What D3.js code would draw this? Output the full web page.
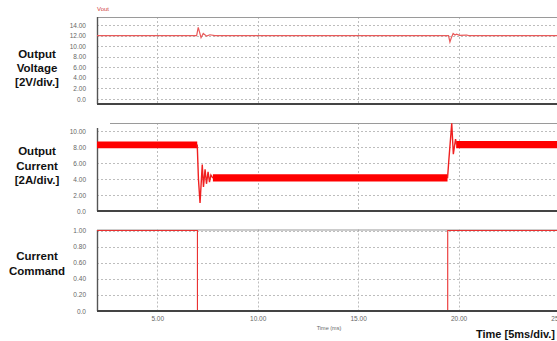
<!DOCTYPE html>
<html>
<head>
<meta charset="utf-8">
<script src="https://cdn.jsdelivr.net/npm/d3@7"></script>
<style>
  html, body { margin: 0; padding: 0; background: #fff; }
  svg { display: block; font-family: "Liberation Sans", Arial, sans-serif; }
</style>
</head>
<body>
<svg id="chart" width="557" height="341"></svg>
<script>
// Time axis (ms)
const timeTicks = [5, 10, 15, 20, 25];

// Output voltage trace (V)
const voltTicks = [0, 2, 4, 6, 8, 10, 12, 14];
const voutTime  = [2, 6.96, 7.04, 7.18, 7.29, 7.46, 7.62, 7.87, 19.5, 19.57, 19.65, 19.73, 19.82, 19.9, 20.05, 20.4, 20.5, 25];
const voutValue = [12, 12, 13.55, 11.6, 12.4, 11.9, 12.15, 12.0, 12, 10.8, 11.7, 12.4, 12.1, 12.25, 12.05, 12.1, 12, 12];

// Output current (A): switching ripple envelopes for the steady intervals
const currTicks   = [0, 2, 4, 6, 8, 10];
const rippleStart = [2, 7.77, 19.88];
const rippleEnd   = [6.99, 19.45, 25];
const rippleLow   = [7.85, 3.7, 7.85];
const rippleHigh  = [8.7, 4.6, 8.75];

// Output current transients at the load steps
const dropTime  = [6.99, 7.05, 7.13, 7.24, 7.30, 7.38, 7.45, 7.53, 7.60, 7.67, 7.77];
const dropValue = [8.3, 4.0, 1.0, 5.8, 3.0, 5.2, 3.4, 4.9, 3.6, 4.5, 4.1];
const riseTime  = [19.45, 19.52, 19.66, 19.74, 19.85, 19.9];
const riseValue = [4.1, 6.5, 10.95, 7.1, 9.0, 8.3];

// Current command (normalised)
const cmdTicks = [0, 0.2, 0.4, 0.6, 0.8, 1.0];
const cmdTime  = [2, 7.0, 7.0, 19.46, 19.46, 25];
const cmdValue = [1, 1, 0, 0, 1, 1];

const svg = d3.select("#chart");
const X0 = 97, X1 = 559;
const x = d3.scaleLinear().domain([2, 25]).range([X0, X1]);

const fmt = v => v === 0 ? "0.0" : d3.format(".2f")(v);

function panel(cfg) {
  const g = svg.append("g");
  const y = d3.scaleLinear().domain(cfg.domain).range(cfg.range);

  // horizontal grid
  g.append("g")
    .selectAll("line").data(cfg.ticks).join("line")
    .attr("x1", X0).attr("x2", X1)
    .attr("y1", d => Math.round(y(d)) + 0.5).attr("y2", d => Math.round(y(d)) + 0.5)
    .attr("stroke", "#bdbdbd").attr("stroke-width", 1)
    .attr("stroke-dasharray", "2,2");

  // vertical grid
  g.append("g")
    .selectAll("line").data(timeTicks).join("line")
    .attr("x1", d => Math.round(x(d)) + 0.5).attr("x2", d => Math.round(x(d)) + 0.5)
    .attr("y1", cfg.top).attr("y2", cfg.bottom)
    .attr("stroke", "#bdbdbd").attr("stroke-width", 1)
    .attr("stroke-dasharray", "2,2");

  // y tick labels
  const ax = d3.axisLeft(y).tickValues(cfg.ticks).tickSize(0).tickPadding(0).tickFormat(fmt);
  const axg = g.append("g").attr("transform", `translate(${X0 - 11},0)`).call(ax);
  axg.select(".domain").remove();
  axg.selectAll("text")
    .attr("fill", "#666").attr("font-size", "6.5px")
    .attr("font-family", "'Liberation Sans', Arial, sans-serif");

  // frame
  g.append("line")
    .attr("x1", cfg.topStart).attr("x2", X1)
    .attr("y1", cfg.top + 0.5).attr("y2", cfg.top + 0.5)
    .attr("stroke", "#9a9a9a").attr("stroke-width", 1.1);
  g.append("line")
    .attr("x1", X0 + 0.5).attr("x2", X0 + 0.5)
    .attr("y1", cfg.leftStart).attr("y2", cfg.bottom)
    .attr("stroke", "#555").attr("stroke-width", 1.4);

  // traces
  cfg.draw(g, y);

  g.append("line")
    .attr("x1", X0).attr("x2", X1)
    .attr("y1", cfg.bottom).attr("y2", cfg.bottom)
    .attr("stroke", "#444").attr("stroke-width", 1.8);

  // side caption
  const cap = g.append("text")
    .attr("text-anchor", "middle")
    .attr("font-weight", "bold").attr("font-size", "11.5px").attr("fill", "#111");
  cfg.caption.forEach((t, i) => {
    cap.append("tspan").attr("x", 37).attr("y", cfg.captionY[i]).text(t);
  });
  return y;
}

const line = (y) => d3.line().x(d => x(d[0])).y(d => y(d[1]));

// Panel 1: output voltage
panel({
  domain: [0, 14], range: [99, 25], ticks: voltTicks,
  top: 17, bottom: 104, topStart: X0, leftStart: 17,
  caption: ["Output", "Voltage", "[2V/div.]"], captionY: [57.5, 71.5, 85.5],
  draw: (g, y) => {
    g.append("path")
      .datum(d3.zip(voutTime, voutValue))
      .attr("d", line(y))
      .attr("fill", "none").attr("stroke", "#e85a5a").attr("stroke-width", 1.2);
  }
});
svg.append("text").attr("x", X0).attr("y", 11)
  .attr("font-size", "6px").attr("fill", "#d04040").text("Vout");

// Panel 2: output current
panel({
  domain: [0, 10], range: [211, 131], ticks: currTicks,
  top: 123, bottom: 211, topStart: 110, leftStart: 128,
  caption: ["Output", "Current", "[2A/div.]"], captionY: [154.5, 169.5, 183.5],
  draw: (g, y) => {
    const bands = rippleStart.map((s, i) => ({ s, e: rippleEnd[i], lo: rippleLow[i], hi: rippleHigh[i] }));
    const area = d3.area().x(d => x(d.t)).y0(d => y(d.lo)).y1(d => y(d.hi));
    g.append("g").selectAll("path").data(bands).join("path")
      .attr("d", b => area([{ t: b.s, lo: b.lo, hi: b.hi }, { t: b.e, lo: b.lo, hi: b.hi }]))
      .attr("fill", "#ff0000");
    g.append("path")
      .datum(d3.zip(dropTime, dropValue))
      .attr("d", line(y))
      .attr("fill", "none").attr("stroke", "#f02020").attr("stroke-width", 1.4);
    g.append("path")
      .datum(d3.zip(riseTime, riseValue))
      .attr("d", line(y))
      .attr("fill", "none").attr("stroke", "#f02020").attr("stroke-width", 1.4);
  }
});

// Panel 3: current command
panel({
  domain: [0, 1], range: [311, 230.5], ticks: cmdTicks,
  top: 229.5, bottom: 311, topStart: X0, leftStart: 230,
  caption: ["Current", "Command"], captionY: [259.5, 275],
  draw: (g, y) => {
    g.append("path")
      .datum(d3.zip(cmdTime, cmdValue))
      .attr("d", line(y))
      .attr("fill", "none").attr("stroke", "#ea3030").attr("stroke-width", 1.1);
  }
});

// time axis labels
const xa = d3.axisBottom(x).tickValues(timeTicks).tickSize(0).tickPadding(0).tickFormat(d3.format(".2f"));
const xg = svg.append("g").attr("transform", "translate(0,316)").call(xa);
xg.select(".domain").remove();
xg.selectAll("text").attr("fill", "#666").attr("font-size", "6.5px")
  .attr("font-family", "'Liberation Sans', Arial, sans-serif");

svg.append("text").attr("x", 329).attr("y", 330).attr("text-anchor", "middle")
  .attr("font-size", "5.5px").attr("fill", "#666").text("Time (ms)");
svg.append("text").attr("x", 555).attr("y", 338).attr("text-anchor", "end")
  .attr("font-size", "11px").attr("font-weight", "bold").attr("fill", "#111")
  .text("Time [5ms/div.]");
</script>
</body>
</html>
